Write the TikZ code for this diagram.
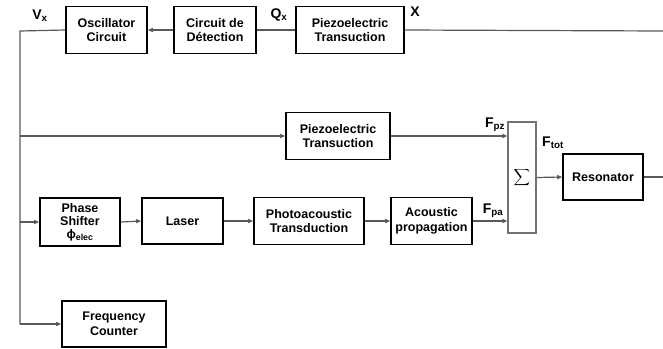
\documentclass[tikz,border=0pt]{standalone}
\usepackage{fontspec}
\setmainfont{Liberation Sans}
\usetikzlibrary{arrows.meta}

\begin{document}
\begin{tikzpicture}[x=1pt,y=-1pt,
    blk/.style={draw=black, line width=1.6pt, align=center, inner sep=0pt,
      font=\bfseries\fontsize{12.5}{14.5}\selectfont},
    wire/.style={draw=black!65, line width=1.2pt},
    sig/.style={wire, -{Triangle[length=5pt,width=4pt]}},
    lbl/.style={font=\bfseries\fontsize{14}{16}\selectfont, inner sep=0pt}]
  \useasboundingbox (0,0) rectangle (663,348);

  % top row
  \node[blk, minimum width=81pt, minimum height=47pt] (osc) at (106.5,30) {Oscillator\\Circuit};
  \node[blk, minimum width=82pt, minimum height=47pt] (det) at (215,30) {Circuit de\\Détection};
  \node[blk, minimum width=108pt, minimum height=47pt] (pzA) at (350,30) {Piezoelectric\\Transuction};

  % middle
  \node[blk, minimum width=104pt, minimum height=47pt] (pzB) at (338,136) {Piezoelectric\\Transuction};
  \node[draw=black!55, line width=1.2pt, minimum width=28pt, minimum height=111pt, inner sep=0pt] (sum) at (522,177.5) {\scalebox{1.15}{$\displaystyle\sum$}};
  \node[blk, minimum width=80pt, minimum height=46pt] (res) at (603,177) {Resonator};

  % bottom row
  \node[blk, minimum width=80pt, minimum height=48pt, font=\bfseries\fontsize{12.5}{13}\selectfont] (phase) at (80,222) {Phase\\Shifter\\ϕ\textsubscript{elec}};
  \node[blk, minimum width=81pt, minimum height=46pt] (laser) at (182.5,221) {Laser};
  \node[blk, minimum width=110pt, minimum height=47pt] (photo) at (309,221) {Photoacoustic\\Transduction};
  \node[blk, minimum width=81pt, minimum height=47pt] (acou) at (431.5,221) {Acoustic\\propagation};
  \node[blk, minimum width=104pt, minimum height=46pt] (freq) at (114,324) {Frequency\\Counter};

  \coordinate (xin) at (663,31);
  \coordinate (vtop) at (20,31);
  \coordinate (vbot) at (20,324);
  \coordinate (rout) at (663,177);

  % labels
  \node[lbl] (vx) at (40,16) {V\textsubscript{x}};
  \node[lbl] (qx) at (279,15) {Q\textsubscript{x}};
  \node[lbl] (xx) at (415,12) {X};
  \node[lbl] (fpz) at (495,125) {F\textsubscript{pz}};
  \node[lbl] (fpa) at (493,211) {F\textsubscript{pa}};
  \node[lbl] (ftot) at (553,143) {F\textsubscript{tot}};

  % connections
  \draw[wire] (xin) -- (pzA.east);
  \draw[wire] (pzA.west) -- (det.east);
  \draw[sig] (det.west) -- (osc.east);
  \draw[wire] (osc.west) -- (vtop) -- (vbot);
  \draw[sig] (vtop |- pzB.west) -- (pzB.west);
  \draw[sig] (vtop |- phase.west) -- (phase.west);
  \draw[sig] (vbot) -- (freq.west);
  \draw[sig] (phase.east) -- (laser.west);
  \draw[sig] (laser.east) -- (photo.west);
  \draw[sig] (photo.east) -- (acou.west);
  \draw[sig] (pzB.east) -- (pzB.east -| sum.west);
  \draw[sig] (acou.east) -- (acou.east -| sum.west);
  \draw[sig] (sum.east) -- (res.west);
  \draw[wire] (res.east) -- (rout);
\end{tikzpicture}
\end{document}
